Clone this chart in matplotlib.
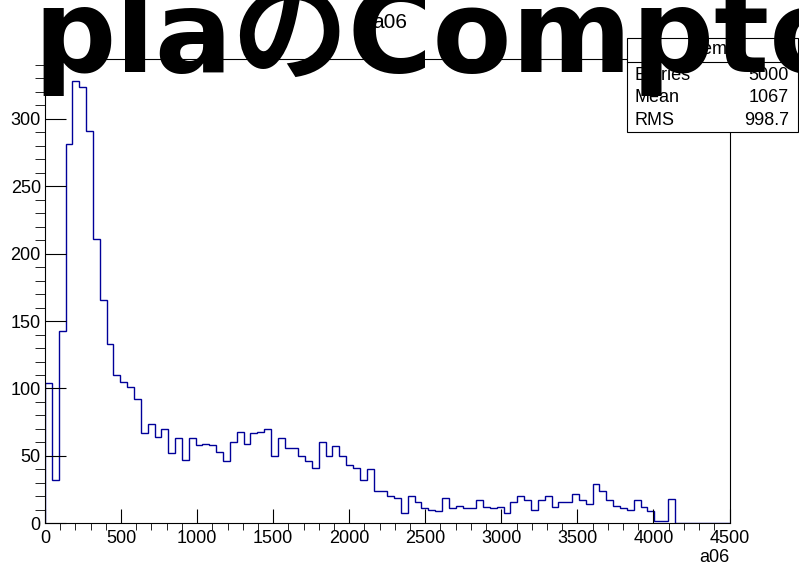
import numpy as np
import matplotlib
matplotlib.use('Agg')
import matplotlib.pyplot as plt
from matplotlib.patches import Rectangle

# histogram of a06, 100 bins from 0 to 4500
x_min = 0
x_max = 4500
counts = [104, 32, 143, 281, 328, 324, 291, 211, 166, 133,
          110, 105, 101, 92, 67, 74, 64, 70, 52, 63,
          47, 63, 58, 59, 58, 53, 46, 60, 68, 59,
          67, 68, 70, 50, 63, 56, 56, 50, 46, 41,
          60, 50, 57, 50, 43, 41, 32, 40, 24, 24,
          20, 19, 8, 20, 16, 11, 10, 9, 19, 11,
          13, 11, 11, 17, 12, 11, 12, 8, 16, 20,
          17, 10, 17, 20, 12, 16, 16, 22, 17, 14,
          29, 24, 17, 13, 11, 10, 17, 12, 9, 2,
          2, 18, 0, 0, 0, 0, 0, 0, 0, 0]

stat_names = ['Entries', 'Mean', 'RMS']
stat_values = ['5000', '1067', '998.7']
hist_name = 'htemp'
var_name = 'a06'
overlay_text = 'plaのCompton'

plt.rcParams['font.family'] = ['Liberation Sans', 'DejaVu Sans']

W, H = 799, 567
fig = plt.figure(figsize=(W / 100, H / 100), dpi=100)
ax = fig.add_axes([45 / W, 1 - 523.3 / H, (729.5 - 45) / W, (523.3 - 59) / H])

edges = np.linspace(x_min, x_max, len(counts) + 1)
ax.stairs(counts, edges, color='#000099', linewidth=1.0, baseline=0)

ax.set_xlim(x_min, x_max)
ax.set_ylim(0, max(counts) * 1.05)

ax.xaxis.set_major_locator(plt.MultipleLocator(500))
ax.xaxis.set_minor_locator(plt.MultipleLocator(100))
ax.yaxis.set_major_locator(plt.MultipleLocator(50))
ax.yaxis.set_minor_locator(plt.MultipleLocator(10))

ax.tick_params(direction='in', top=False, right=False, width=0.8,
               labelsize=13, colors='black')
ax.tick_params(axis='y', which='major', length=14.8, pad=3)
ax.tick_params(axis='y', which='minor', length=7.4)
ax.tick_params(axis='x', which='major', length=10, pad=5)
ax.tick_params(axis='x', which='minor', length=5)
for s in ax.spines.values():
    s.set_linewidth(0.8)

# axis label, bottom right
fig.text(729 / W, 1 - 557 / H, var_name, fontsize=13, ha='right', va='center')

# title
fig.text(390 / W, 1 - 22 / H, var_name, fontsize=15, ha='center', va='center')

# stats box
bx0, by0, bx1, by1 = 627, 38, 798, 132
fig.patches.append(Rectangle((bx0 / W, 1 - by1 / H), (bx1 - bx0) / W, (by1 - by0) / H,
                             transform=fig.transFigure, facecolor='white',
                             edgecolor='black', linewidth=0.8, zorder=5))
fig.lines.append(plt.Line2D([bx0 / W, bx1 / W], [1 - 61.5 / H, 1 - 61.5 / H],
                            transform=fig.transFigure, color='black', linewidth=0.8, zorder=6))
fig.text((bx0 + bx1) / 2 / W, 1 - 50 / H, hist_name, fontsize=13,
         ha='center', va='center', zorder=7)
for i, (n, v) in enumerate(zip(stat_names, stat_values)):
    yy = 1 - (75 + 23 * i) / H
    fig.text(634 / W, yy, n, fontsize=13, ha='left', va='center', zorder=7)
    fig.text(789 / W, yy, v, fontsize=13, ha='right', va='center', zorder=7)

# big overlay text
fig.text(33 / W, 1 - 72 / H, overlay_text, fontsize=83, fontweight='bold',
         family=['DejaVu Sans', 'Noto Sans CJK JP'], color='black',
         ha='left', va='baseline', zorder=20)

fig.savefig('out.png', dpi=100)
